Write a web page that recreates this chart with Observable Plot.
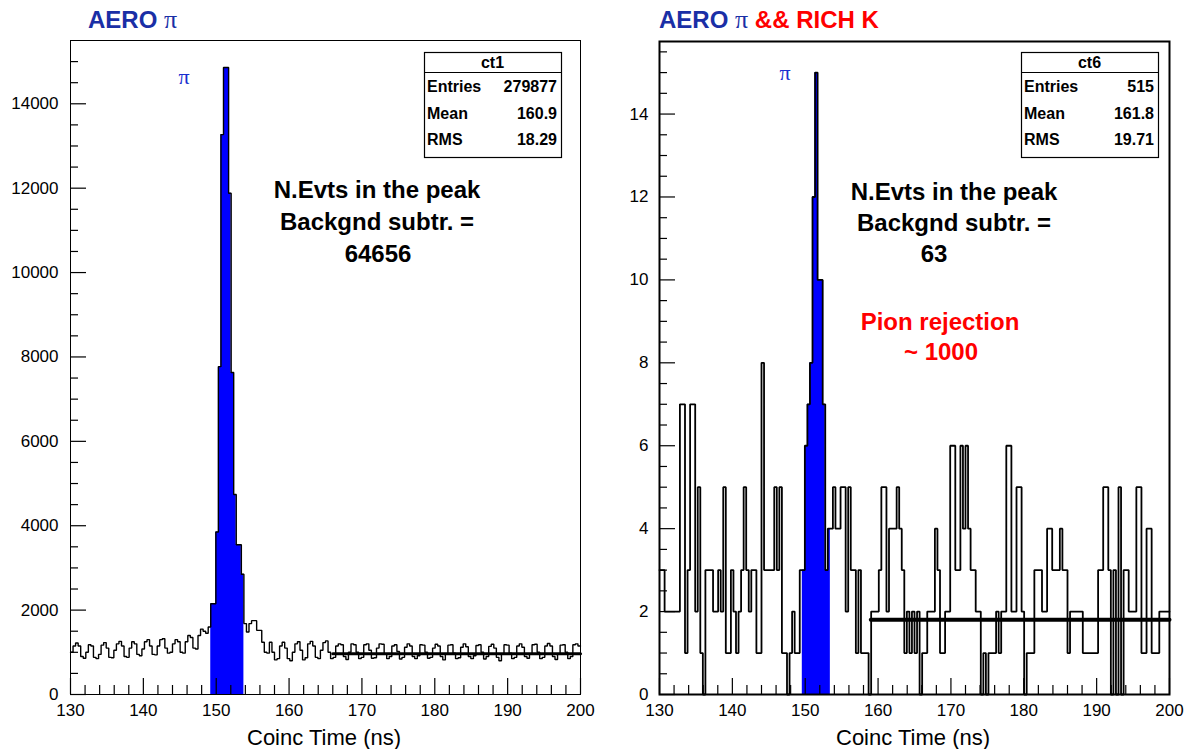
<!DOCTYPE html>
<html><head><meta charset="utf-8">
<script src="https://cdn.jsdelivr.net/npm/d3@7"></script>
<script src="https://cdn.jsdelivr.net/npm/@observablehq/plot@0.6"></script>
<style>
body{margin:0;background:#fff;}
#wrap{position:relative;width:1199px;height:749px;overflow:hidden;background:#fff;}
#wrap > svg, #wrap > div{position:absolute;top:0;}
#overlay{position:absolute;left:0;top:0;pointer-events:none;}
</style></head>
<body><div id="wrap"></div>
<script>
// ---------- data ----------
const binStart = 130, binWidth = 0.35;
// left panel: AERO pi, counts per 0.35 ns bin (130..200 ns)
const leftCounts = [
 1000,1150,1220,1150,900,860, 1000,1180,1150,880,850,
 950,1170,1230,1100,880,870, 1050,1200,1260,1150,900,880,
 1100,1250,1200,950,920, 1080,1250,1300,1150,950,940,
 1150,1300,1320,1100,980, 1000,1200,1300,1250,1000,980,
 1250,1400,1350,1100,1080, 1400,1550,1500,1450,1600,
 2150,2150,3850,7770,13270,14860,14860,11880,7630,4740,3550,3550,2850,
 1680,1480,1680,1750,1750,1520,1520,1240,1000,980,
 1240,1000,820,850,1150,1240,1100,850,800,1000,
 1200,1250,1050,820,870,1200,1260,1150,880,850,
 1050,1230,1270,1000,850,880, 1150,1200,1180,900,830,
 1000,1200,1180,1000,850,880, 1180,1200,1050,860,870,
 1100,1200,1190,950,850,900, 1150,1180,1020,840,880,
 1120,1200,1150,900,850,920, 1180,1170,1000,860,880,
 1100,1190,1150,900,820,950, 1170,1180,980,850,870,
 1120,1200,1130,900,850,920, 1160,1180,1000,840,900,
 1140,1190,1100,880,800,960, 1180,1170,980,850,880,
 1150,1200,1120,900,860,950, 1180,1190,1000,850,880,
 1150,1210,1150,900,830,960, 1170,1180,1000,850,900,
 1180,1200,1150
];
// right panel: AERO pi && RICH K
const rightCounts = [
 3,3,2,2,2,2,2,2,7,7, 1,3,7,7,2,5,1,0,3,3,
 3,2,2,3,2,5,1,1,3,2, 1,2,3,5,3,2,3,3,1,1,
 8,3,3,3,3,5,3,5,1,1, 0,1,2,1,1,3,3,6,7,8,
 12,15,10,10,7,3,4,4,5,4, 4,5,5,2,5,3,3,1,3,1,
 1,1,0,2,2,2,3,5,5,2, 4,4,4,5,4,3,1,2,1,2,
 1,2,0,1,1,2,2,2,4,3, 1,1,2,2,6,6,3,3,6,4,
 6,4,3,3,2,2,0,1,0,1, 1,1,2,1,2,2,6,6,2,2,
 5,5,2,0,1,1,1,3,3,3, 2,2,4,4,3,3,3,4,3,3,
 1,2,2,2,2,2,1,1,1,1, 1,1,3,3,5,5,3,0,3,0,
 5,0,3,3,2,2,2,5,5,1, 1,4,4,1,1,1,2,2,2,2
];
// peak (blue) bin ranges [first, last]
const leftPeakBins = [55, 67];
const rightPeakBins = [56, 66];
// background fits: [from ns, to ns, level]
const leftFit = [166, 200, 965];
const rightFit = [159, 200, 1.8];
const xTicks = [130,140,150,160,170,180,190,200];
const xMinor = [132,134,136,138,142,144,146,148,152,154,156,158,162,164,166,168,172,174,176,178,182,184,186,188,192,194,196,198];
const leftYTicks = [0,2000,4000,6000,8000,10000,12000,14000];
const leftYMinor = [500,1000,1500,2500,3000,3500,4500,5000,5500,6500,7000,7500,8500,9000,9500,10500,11000,11500,12500,13000,13500,14500,15000];
const rightYTicks = [0,2,4,6,8,10,12,14];
const rightYMinor = [0.5,1,1.5,2.5,3,3.5,4.5,5,5.5,6.5,7,7.5,8.5,9,9.5,10.5,11,11.5,12.5,13,13.5,14.5,15,15.5];
const leftStats = {name:"ct1", Entries:"279877", Mean:"160.9", RMS:"18.29"};
const rightStats = {name:"ct6", Entries:"515", Mean:"161.8", RMS:"19.71"};

// ---------- helpers ----------
function outline(counts, from = 0, to = counts.length - 1){
  const pts=[];
  counts.forEach((v,i)=>{
    if (i < from || i > to) return;
    pts.push({x:binStart+i*binWidth,y:v});
    pts.push({x:binStart+(i+1)*binWidth,y:v});
  });
  return pts;
}
const FONT = "'Liberation Sans', Arial, Helvetica, sans-serif";

function panel({counts, peak, fit, yMax, yTicks, yMinor, width, mL, mR, mT, mB, frameW, lineW, fitW, yPad}){
  const H = 749;
  const fw = width - mL - mR, fh = H - mT - mB;
  return Plot.plot({
    width, height: H,
    marginLeft: mL, marginRight: mR, marginTop: mT, marginBottom: mB,
    x: {domain:[130,200], label:null},
    y: {domain:[0,yMax], label:null},
    style: {fontFamily: FONT, fontSize: "17px", color:"#000", background:"transparent", overflow:"visible"},
    marks: [
      Plot.area(outline(counts, peak[0], peak[1]), {x1:"x", y1:0, y2:"y", fill:"#0000ff"}),
      Plot.line(outline(counts), {x:"x", y:"y", stroke:"#000", strokeWidth:lineW, strokeLinejoin:"miter"}),
      Plot.line([{x:fit[0],y:fit[2]},{x:fit[1],y:fit[2]}], {x:"x", y:"y", stroke:"#000", strokeWidth:fitW}),
      Plot.ruleX(xTicks, {x:d=>d, insetTop: fh-16, stroke:"#000", strokeWidth:1.2}),
      Plot.ruleX(xMinor, {x:d=>d, insetTop: fh-9, stroke:"#000", strokeWidth:1.2}),
      Plot.ruleY(yTicks, {y:d=>d, insetRight: fw-16, stroke:"#000", strokeWidth:1.2}),
      Plot.ruleY(yMinor, {y:d=>d, insetRight: fw-8, stroke:"#000", strokeWidth:1.2}),
      Plot.axisX(xTicks, {tickSize:0, tickPadding:9, fontSize:17, label:null}),
      Plot.axisY(yTicks, {tickSize:0, tickPadding:yPad, fontSize:17, label:null, tickFormat:d=>String(d)}),
      Plot.frame({stroke:"#000", strokeWidth:frameW})
    ]
  });
}

const wrap = document.getElementById("wrap");
const left = panel({counts:leftCounts, peak:leftPeakBins, fit:leftFit, yMax:15500, yTicks:leftYTicks, yMinor:leftYMinor,
  width:600, mL:70, mR:20, mT:40, mB:55, frameW:1, lineW:1.4, fitW:3, yPad:12});
left.style.left = "0px";
wrap.appendChild(left);
const right = panel({counts:rightCounts, peak:rightPeakBins, fit:rightFit, yMax:15.75, yTicks:rightYTicks, yMinor:rightYMinor,
  width:599, mL:59, mR:30, mT:41, mB:55, frameW:2, lineW:1.8, fitW:4, yPad:11});
right.style.left = "600px";
wrap.appendChild(right);

// ---------- overlay texts ----------
const NS = "http://www.w3.org/2000/svg";
const ov = document.createElementNS(NS,"svg");
ov.setAttribute("id","overlay"); ov.setAttribute("width",1199); ov.setAttribute("height",749);
wrap.appendChild(ov);
function txt(x,y,str,{size=24,weight="bold",fill="#000",anchor="start",family=FONT}={}){
  const t=document.createElementNS(NS,"text");
  t.setAttribute("x",x);t.setAttribute("y",y);t.setAttribute("font-size",size);t.setAttribute("font-weight",weight);
  t.setAttribute("fill",fill);t.setAttribute("text-anchor",anchor);t.setAttribute("font-family",family);
  t.textContent=str; ov.appendChild(t); return t;
}
function tspan(parent,str,attrs){
  const s=document.createElementNS(NS,"tspan");
  for(const k in attrs) s.setAttribute(k,attrs[k]);
  s.textContent=str; parent.appendChild(s); return s;
}
const SERIF = "'Liberation Serif','Times New Roman',serif";
const TBLUE = "#1a2fa6";
// titles
const t1 = txt(88,28,"AERO ",{fill:TBLUE});
tspan(t1,"π",{"font-family":SERIF,"font-weight":"normal","font-size":26});
const t2 = txt(659,28,"AERO ",{fill:TBLUE});
tspan(t2,"π",{"font-family":SERIF,"font-weight":"normal","font-size":26});
tspan(t2," && RICH K",{fill:"#ff0000"});
// pi labels
txt(184,84,"π",{size:22,weight:"normal",fill:"#1a2fd0",anchor:"middle",family:SERIF});
txt(785,80,"π",{size:22,weight:"normal",fill:"#1a2fd0",anchor:"middle",family:SERIF});
// stats boxes
function statBox(x0,s){
  const w=137,h=105,y0=52;
  const r=document.createElementNS(NS,"rect");
  r.setAttribute("x",x0+0.5);r.setAttribute("y",y0+0.5);r.setAttribute("width",w);r.setAttribute("height",h);
  r.setAttribute("fill","#fff");r.setAttribute("stroke","#000");r.setAttribute("stroke-width",1.2);
  ov.appendChild(r);
  const l=document.createElementNS(NS,"line");
  l.setAttribute("x1",x0);l.setAttribute("x2",x0+w);l.setAttribute("y1",y0+20.5);l.setAttribute("y2",y0+20.5);
  l.setAttribute("stroke","#000");l.setAttribute("stroke-width",1.2);ov.appendChild(l);
  txt(x0+w/2,y0+16,s.name,{size:16,anchor:"middle"});
  [["Entries",s.Entries],["Mean",s.Mean],["RMS",s.RMS]].forEach(([k,v],j)=>{
    const yb=y0+40+j*26.5;
    txt(x0+3,yb,k,{size:16});
    txt(x0+w-4,yb,v,{size:16,anchor:"end"});
  });
}
statBox(424,leftStats);
statBox(1021,rightStats);
// annotations
txt(377,198,"N.Evts in the peak",{anchor:"middle"});
txt(377,230,"Backgnd subtr. =",{anchor:"middle"});
txt(378,262,"64656",{anchor:"middle"});
txt(954,200,"N.Evts in the peak",{anchor:"middle"});
txt(954,231,"Backgnd subtr. =",{anchor:"middle"});
txt(934,262,"63",{anchor:"middle"});
txt(940,330,"Pion rejection",{anchor:"middle",fill:"#ff0000"});
txt(941,360,"~ 1000",{anchor:"middle",fill:"#ff0000"});
// axis titles
txt(247,745,"Coinc Time (ns)",{size:22,weight:"normal"});
txt(836,745,"Coinc Time (ns)",{size:22,weight:"normal"});
</script></body></html>
